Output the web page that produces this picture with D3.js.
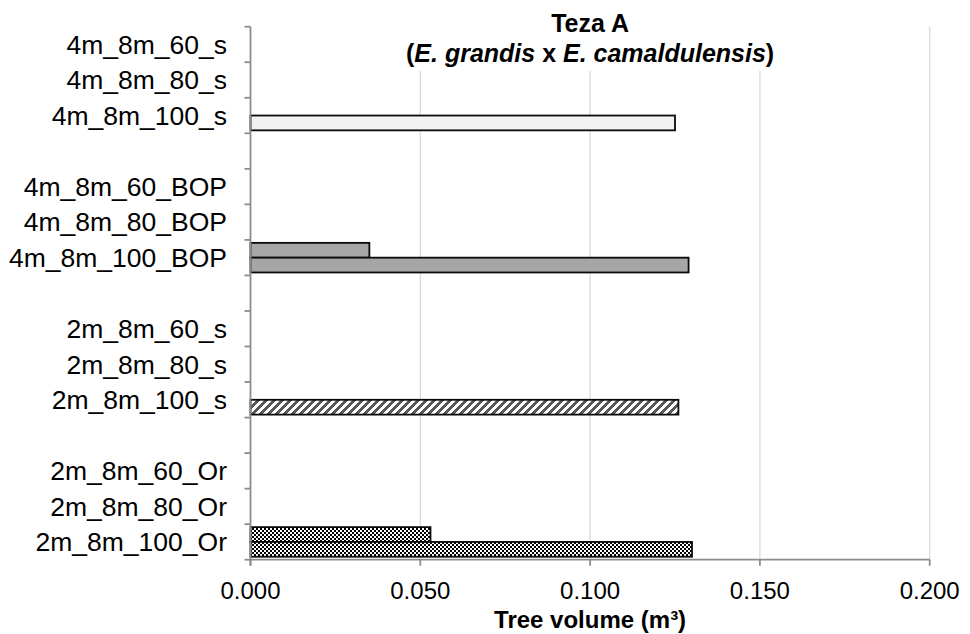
<!DOCTYPE html>
<html>
<head>
<meta charset="utf-8">
<script src="https://cdn.jsdelivr.net/npm/d3@7"></script>
<style>
  html, body { margin: 0; padding: 0; background: #fff; }
  svg { display: block; font-family: "Liberation Sans", Arial, sans-serif; }
</style>
</head>
<body>
<svg id="chart" width="970" height="634"></svg>
<script>
// Treatments, top to bottom; empty strings are spacer rows between groups
const categories = [
  "4m_8m_60_s", "4m_8m_80_s", "4m_8m_100_s", "",
  "4m_8m_60_BOP", "4m_8m_80_BOP", "4m_8m_100_BOP", "",
  "2m_8m_60_s", "2m_8m_80_s", "2m_8m_100_s", "",
  "2m_8m_60_Or", "2m_8m_80_Or", "2m_8m_100_Or"
];
// Tree volume (m³), two series drawn as upper / lower bar of each row
const upperValues = [null, null, null, null, null, null, 0.035, null, null, null, null, null, null, null, 0.053];
const lowerValues = [null, null, 0.125, null, null, null, 0.129, null, null, null, 0.126, null, null, null, 0.130];
// Fill used by each treatment group (rows are grouped in fours)
const groupFills = ["#f2f2f2", "#a6a6a6", "url(#hatch)", "url(#checker)"];
const xTicks = [0, 0.05, 0.10, 0.15, 0.20];
const titleLines = ["Teza A"];
const xTitle = "Tree volume (m³)";

const svg = d3.select("#chart");
const plotLeft = 250.5, plotRight = 929.7, plotTop = 26.7, plotBottom = 559.7;

const x = d3.scaleLinear().domain([0, 0.2]).range([plotLeft, plotRight]);
const y = d3.scaleBand().domain(d3.range(categories.length)).range([plotTop, plotBottom]).padding(0);
const sub = d3.scaleBand().domain([0, 1]).range([0, y.bandwidth()]).paddingInner(0).paddingOuter(0.2);

// Fill patterns
const defs = svg.append("defs");
const hatch = defs.append("pattern").attr("id", "hatch")
  .attr("patternUnits", "userSpaceOnUse").attr("width", 8).attr("height", 8);
hatch.append("rect").attr("width", 8).attr("height", 8).attr("fill", "#fff");
for (let r = 0; r < 8; r++) {
  for (let c = 0; c < 8; c++) {
    if ((c + r) % 8 < 4) {
      hatch.append("rect").attr("x", c).attr("y", r).attr("width", 1).attr("height", 1)
        .attr("fill", "#5a5a5a").attr("shape-rendering", "crispEdges");
    }
  }
}
const checker = defs.append("pattern").attr("id", "checker")
  .attr("patternUnits", "userSpaceOnUse").attr("width", 4).attr("height", 4);
checker.append("rect").attr("width", 4).attr("height", 4).attr("fill", "#fff");
checker.append("rect").attr("width", 2).attr("height", 2).attr("fill", "#000").attr("shape-rendering", "crispEdges");
checker.append("rect").attr("x", 2).attr("y", 2).attr("width", 2).attr("height", 2).attr("fill", "#000").attr("shape-rendering", "crispEdges");

// Vertical gridlines
svg.append("g").selectAll("line").data(xTicks.slice(1)).join("line")
  .attr("x1", d => x(d)).attr("x2", d => x(d))
  .attr("y1", plotTop).attr("y2", plotBottom)
  .attr("stroke", "#d9d9d9").attr("stroke-width", 1.3);

// Bars
const rows = categories.map((c, i) => ({ i, c, fill: groupFills[Math.floor(i / 4)] }));
const barData = [];
rows.forEach(r => {
  if (upperValues[r.i] != null) barData.push({ i: r.i, s: 0, v: upperValues[r.i], fill: r.fill });
  if (lowerValues[r.i] != null) barData.push({ i: r.i, s: 1, v: lowerValues[r.i], fill: r.fill });
});
svg.append("g").selectAll("rect").data(barData).join("rect")
  .attr("x", x(0))
  .attr("y", d => y(d.i) + sub(d.s))
  .attr("width", d => x(d.v) - x(0))
  .attr("height", sub.bandwidth())
  .attr("fill", d => d.fill)
  .attr("stroke", "#0a0a0a").attr("stroke-width", 1.8);

// Category axis: boundaries between rows
const yAxis = svg.append("g");
yAxis.append("line").attr("x1", plotLeft).attr("x2", plotLeft).attr("y1", plotTop).attr("y2", plotBottom + 6)
  .attr("stroke", "#8c8c8c").attr("stroke-width", 1.8);
yAxis.selectAll("line.tick").data(d3.range(categories.length + 1)).join("line")
  .attr("class", "tick")
  .attr("x1", plotLeft - 6).attr("x2", plotLeft)
  .attr("y1", i => i < categories.length ? y(i) : plotBottom)
  .attr("y2", i => i < categories.length ? y(i) : plotBottom)
  .attr("stroke", "#8c8c8c").attr("stroke-width", 1.8);
yAxis.selectAll("text").data(rows.filter(r => r.c !== "")).join("text")
  .attr("x", 227)
  .attr("y", r => y(r.i) + y.bandwidth() / 2)
  .attr("dy", "0.35em")
  .attr("text-anchor", "end")
  .attr("font-size", 26.5)
  .attr("fill", "#000")
  .text(r => r.c);

// Value axis
const xAxis = svg.append("g");
xAxis.append("line").attr("x1", plotLeft).attr("x2", plotRight).attr("y1", plotBottom).attr("y2", plotBottom)
  .attr("stroke", "#8c8c8c").attr("stroke-width", 1.8);
xAxis.selectAll("line.tick").data(xTicks).join("line")
  .attr("class", "tick")
  .attr("x1", d => x(d)).attr("x2", d => x(d))
  .attr("y1", plotBottom).attr("y2", plotBottom + 6)
  .attr("stroke", "#8c8c8c").attr("stroke-width", 1.8);
xAxis.selectAll("text").data(xTicks).join("text")
  .attr("x", d => x(d))
  .attr("y", 599)
  .attr("text-anchor", "middle")
  .attr("font-size", 24)
  .text(d => d3.format(".3f")(d));

svg.append("text")
  .attr("x", (plotLeft + plotRight) / 2).attr("y", 628)
  .attr("text-anchor", "middle")
  .attr("font-size", 24).attr("font-weight", "bold")
  .text(xTitle);

// Chart title with white backing
const title = svg.append("g");
const titleBg = title.append("rect").attr("fill", "#fff");
const tText = title.append("text")
  .attr("text-anchor", "middle")
  .attr("font-size", 25).attr("font-weight", "bold");
tText.append("tspan").attr("x", (plotLeft + plotRight) / 2).attr("y", 32).text(titleLines[0]);
const l2 = tText.append("tspan").attr("x", (plotLeft + plotRight) / 2).attr("y", 62);
l2.append("tspan").text("(");
l2.append("tspan").attr("font-style", "italic").text("E. grandis");
l2.append("tspan").text(" x ");
l2.append("tspan").attr("font-style", "italic").text("E. camaldulensis");
l2.append("tspan").text(")");
const bb = tText.node().getBBox();
titleBg.attr("x", bb.x - 6).attr("y", bb.y - 2).attr("width", bb.width + 12).attr("height", bb.height + 6);
</script>
</body>
</html>
